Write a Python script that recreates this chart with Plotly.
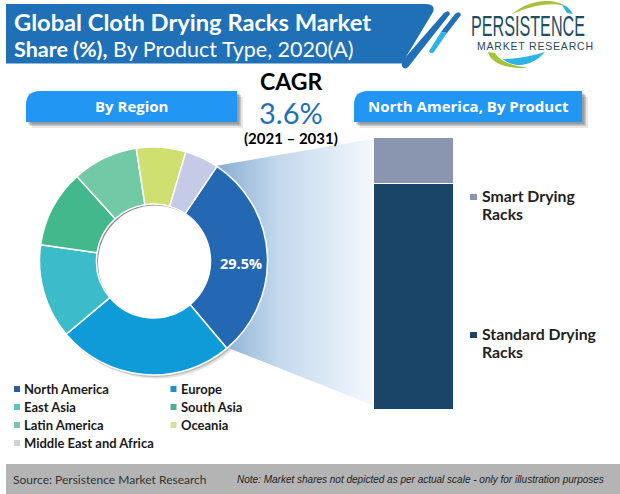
import plotly.graph_objects as go

# ---- data ----
regions = ["North America", "Europe", "East Asia", "South Asia", "Latin America", "Oceania", "Middle East and Africa"]
region_share = [29.5, 25.0, 13.4, 11.0, 9.3, 7.0, 4.8]
region_colors = ["#2468b4", "#0e9bd8", "#3cbccb", "#43b88c", "#72c9a6", "#cfe070", "#c5cbe6"]
legend_colors = ["#2f5f9b", "#1c93c4", "#5cc4bf", "#4fae8b", "#7fc4a6", "#d6e29a", "#cfd2de"]
products = ["Standard Drying Racks", "Smart Drying Racks"]
product_share = [83.0, 17.0]
product_colors = ["#1b4568", "#8a96b0"]
product_lines = [["Standard Drying", "Racks"], ["Smart Drying", "Racks"]]
W, H = 620, 494
FONT = "Lato"

def X(p): return p / W
def Y(p): return 1 - p / H

fig = go.Figure()

# gradient funnel (pixel axes)
fig.add_trace(go.Scatter(
    x=[215, 372, 372, 226, 215], y=[166, 139, 405, 347, 166], mode="lines",
    line=dict(width=0), fill="toself", hoverinfo="skip", showlegend=False,
    fillgradient=dict(type="horizontal", colorscale=[[0, "#86acd2"], [0.4, "#c3d8ec"], [1, "#f3f8fd"]]),
    xaxis="x", yaxis="y"))

# stacked product bar
for name, v, c in zip(products, product_share, product_colors):
    fig.add_trace(go.Bar(x=["North America"], y=[v], name=name, marker=dict(color=c, line=dict(color="white", width=1)),
                         width=1, showlegend=False, xaxis="x2", yaxis="y2"))

# regional donut
fig.add_trace(go.Pie(
    labels=regions, values=region_share, sort=False, direction="clockwise", rotation=33.8,
    hole=0.5, marker=dict(colors=region_colors, line=dict(color="white", width=1.5)),
    textinfo="none", showlegend=False,
    domain=dict(x=[X(39.5), X(267.5)], y=[Y(375), Y(147)]),
))

shapes = []
def path(d, color, layer="below"):
    shapes.append(dict(type="path", xref="x", yref="y", path=d, fillcolor=color, line=dict(width=0), layer=layer))

def rect(x0, y0, x1, y1, color):
    shapes.append(dict(type="rect", xref="x", yref="y", x0=x0, y0=y0, x1=x1, y1=y1, fillcolor=color, line=dict(width=0), layer="below"))

def circle(cx, cy, r, color):
    shapes.append(dict(type="circle", xref="x", yref="y", x0=cx-r, x1=cx+r, y0=cy-r, y1=cy+r, fillcolor=color, line=dict(width=0), layer="below"))

# footer
rect(6, 464, 620, 494, "#b4b4b4")

# title banner
path("M6,4 L425,4 Q436,4 433,12 L402,63.5 L6,63.5 Z", "#1f70b6")
path("M444,13 Q449,9 450,14 L409,66 Q405,71 402,66 Q401,63 404,59 Z", "#1f70b6")
path("M455,14 Q460,10 461,15 L447,33 L441,32 Z", "#1f70b6")
path("M441,32 L447,33 L434,52 Q431,55 429,51 Z", "#2cb3e6")

# section headers with soft shadows
for x0, x1 in [(26, 237), (354, 582)]:
    for off, a in [(6, 0.12), (4, 0.2), (2.5, 0.3)]:
        path(f"M{x0+off},{91+off} L{x1+off},{91+off} L{x1+off},{122+off} L{x0+off},{122+off} Z", f"rgba(60,60,60,{a})")
    path(f"M{x0+14},91 L{x1},91 L{x1},122 L{x0},122 L{x0},105 Q{x0},91 {x0+14},91 Z", "#2196f3")

# donut shadow and hole
cx, cy, r = 153.5, 261, 114
for off, a in [(3.5, 0.15), (2, 0.25)]:
    circle(cx+off-0.5, cy+off-0.5, r+0.5, f"rgba(70,70,70,{a})")
circle(cx, cy, 58, "#8a8a8a")
circle(cx+1.5, cy+1.5, 57, "white")

# logo swooshes
path("M512,14 C522,6 534,1 546,1 C554,1 561,3 566,6 C558,4 550,4 542,5 C532,6 522,10 512,14 Z", "#a4c23a")
path("M562,5 L566,6 Q570,9 573,14 L567,13 Z", "#2cb3e6")
path("M488,52 C490,62 504,69 528,68 C514,66 500,62 495,53 Z", "#a4c23a")
path("M503,59 C518,59 532,56 545,52 C538,60 528,65 520,65 C512,65 506,62 503,59 Z", "#2cb3e6")

# legend squares
leg_x = [17, 173.5, 17, 173.5, 17, 173.5, 17]
leg_y = [389, 389, 407, 407, 425, 425, 443]
for c, lx, ly in zip(legend_colors, leg_x, leg_y):
    rect(lx-3, ly-3, lx+3, ly+3, c)

annos = []
def txt(x, y, s, size, color="#111111", anchor="left", family=FONT):
    annos.append(dict(x=x - (2 if anchor == "left" else 0), y=y, xref="x", yref="y", text=s, showarrow=False, xanchor=anchor, yanchor="middle",
                      font=dict(size=size, color=color, family=family), align="left"))

txt(14, 22, "<b>Global Cloth Drying Racks Market</b>", 23.7, "white")
txt(14, 49, "<b>Share (%),</b> By Product Type, 2020(A)", 21.5, "white")
txt(131, 106, "<b>By Region</b>", 15, "white", "center", "Open Sans")
txt(468, 106, "<b>North America, By Product</b>", 15, "white", "center", "Open Sans")
txt(291, 81, "<b>CAGR</b>", 23, "#000000", "center")
txt(291, 112, "3.6%", 29, "#1f70b6", "center")
txt(291, 138, "<b>(2021 – 2031)</b>", 15, "#000000", "center")
txt(241, 263, f"<b>{region_share[0]}%</b>", 14.5, "white", "center", "Open Sans")

for name, lx, ly in zip(regions, leg_x, leg_y):
    txt(lx + 7, ly, f"<b>{name}</b>", 13, "#1a1a1a")

for lines, c, ty in zip(product_lines, product_colors, [335, 197]):
    rect(470, ty-3, 477, ty+3, c)
    for i, line in enumerate(lines):
        txt(482, ty - 1.5 + 18*i, f"<b>{line}</b>", 15.8, "#222222")

txt(13, 479, "Source: Persistence Market Research", 12, "#333333")
txt(237, 479, "<i>Note: Market shares not depicted as per actual scale - only for illustration purposes</i>", 10, "#222222", family="Liberation Sans")
txt(525, 27, "PERSISTENCE", 15.5, "#1f4e63", "center", family="Liberation Sans")
txt(529, 46, "MARKET RESEARCH", 10.5, "#2a4a5a", "center", family="Liberation Sans")

fig.update_layout(
    width=W, height=H, margin=dict(l=0, r=0, t=0, b=0, pad=0), paper_bgcolor="white", plot_bgcolor="rgba(0,0,0,0)",
    barmode="stack", bargap=0, shapes=shapes, annotations=annos,
    xaxis=dict(range=[0, W], domain=[0, 1], visible=False, fixedrange=True),
    yaxis=dict(range=[H, 0], domain=[0, 1], visible=False, fixedrange=True),
    xaxis2=dict(domain=[X(374), X(454)], anchor="y2", visible=False, fixedrange=True),
    yaxis2=dict(domain=[Y(410), Y(138)], range=[0, 100], anchor="x2", visible=False, fixedrange=True),
)
post = """
document.body.style.margin='0';
document.querySelectorAll('.annotation-text').forEach(function(t){
  if(t.textContent==='PERSISTENCE'){t.setAttribute('textLength','114');t.setAttribute('lengthAdjust','spacingAndGlyphs');t.style.fontSize='30px';t.setAttribute('y',Number(t.getAttribute('y'))+3);}
  if(t.textContent==='MARKET RESEARCH'){t.setAttribute('textLength','116');t.setAttribute('lengthAdjust','spacing');}
});
"""
fig.write_html("out.html", post_script=post, config=dict(displayModeBar=False))
